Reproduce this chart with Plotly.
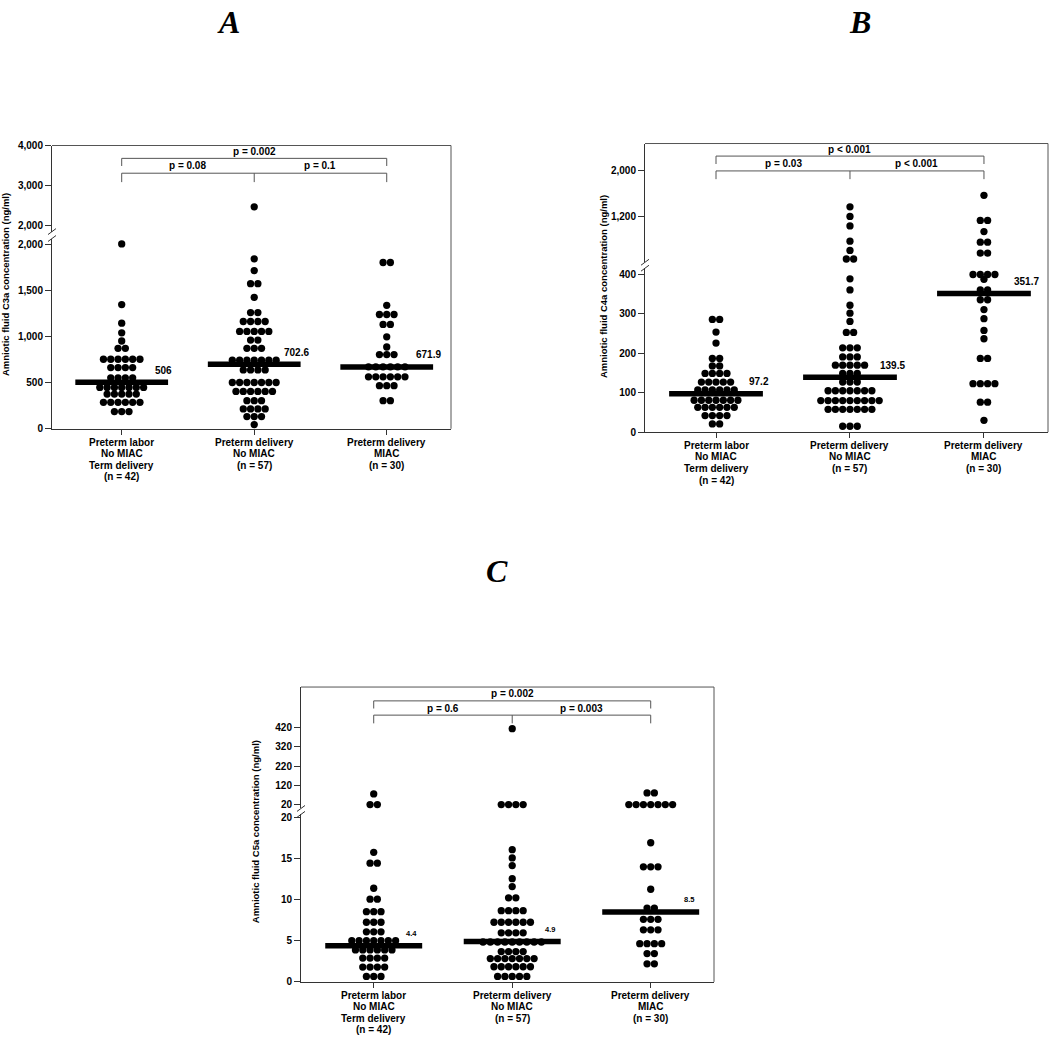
import plotly.graph_objects as go

W, H = 1050, 1044

# ---------------- data ----------------
categories = [["Preterm labor", "No MIAC", "Term delivery", "(n = 42)"],
              ["Preterm delivery", "No MIAC", "(n = 57)"],
              ["Preterm delivery", "MIAC", "(n = 30)"]]

# Panel A: C3a (ng/ml)
c3a_term = [2009, 1350, 1148, 1043, 954, 875, 875,
            756, 756, 756, 756, 756, 756, 665, 665, 665, 665,
            554, 554, 554, 554, 449, 449, 449, 449, 449, 449, 449,
            377, 377, 377, 377, 377, 288, 288, 288, 288, 288, 288,
            187, 187, 187]
c3a_nomiac = [2476, 1847, 1720, 1577, 1577, 1429, 1263, 1263,
              1166, 1166, 1166, 1166, 1058, 1058, 1058, 1058, 1058,
              964, 964, 875, 875, 875, 745, 745, 745, 745, 745, 745, 745,
              640, 640, 640, 640, 503, 503, 503, 503, 503, 503, 503,
              406, 406, 406, 406, 406, 406, 306, 306, 306,
              216, 216, 216, 216, 133, 133, 133, 46]
c3a_miac = [1807, 1807, 1342, 1242, 1242, 1242, 1134, 1134, 1000, 889,
            806, 806, 806, 673, 673, 673, 673, 673, 673,
            565, 565, 565, 565, 565, 565, 468, 468, 468, 306, 306]
c3a_medians = [506, 702.6, 671.9]
c3a_median_text = ["506", "702.6", "671.9"]
c3a_pvalues = ["p = 0.002", "p = 0.08", "p = 0.1"]
c3a_low_ticks = [0, 500, 1000, 1500, 2000]
c3a_low_ticktext = ["0", "500", "1,000", "1,500", "2,000"]
c3a_up_ticks = [2000, 3000, 4000]
c3a_up_ticktext = ["2,000", "3,000", "4,000"]

# Panel B: C4a (ng/ml)
c4a_term = [286, 286, 254, 226, 187, 187, 168, 168, 149, 149, 149, 149,
            127, 127, 127, 127, 127, 107, 107, 107, 107, 107, 107,
            81, 81, 81, 81, 81, 81, 81, 63, 63, 63, 63, 63, 63,
            42, 42, 42, 42, 21, 21]
c4a_nomiac = [1369, 1200, 1033, 765, 603, 452, 452, 389, 361, 322, 302, 281,
              253, 253, 214, 214, 214, 191, 191, 191, 170, 170, 170, 170, 170,
              149, 149, 149, 127, 127, 127, 105, 105, 105, 105, 105, 105, 105,
              80, 80, 80, 80, 80, 80, 80, 80, 80, 58, 58, 58, 58, 58, 58, 58,
              15, 15, 15]
c4a_miac = [1572, 1130, 1130, 934, 748, 748, 557, 557, 400, 400, 400, 400,
            388, 361, 361, 336, 336, 311, 288, 258, 237, 187, 187,
            123, 123, 123, 123, 76, 76, 30]
c4a_medians = [97.2, 139.5, 351.7]
c4a_median_text = ["97.2", "139.5", "351.7"]
c4a_pvalues = ["p < 0.001", "p = 0.03", "p < 0.001"]
c4a_low_ticks = [0, 100, 200, 300, 400]
c4a_low_ticktext = ["0", "100", "200", "300", "400"]
c4a_up_ticks = [1200, 2000]
c4a_up_ticktext = ["1,200", "2,000"]

# Panel C: C5a (ng/ml)
c5a_term = [76, 21, 21, 15.75, 14.43, 14.43, 11.38, 10.05, 10.05,
            8.54, 8.54, 8.54, 7.25, 7.25, 7.25, 6.09, 6.09, 6.09,
            5.0, 5.0, 5.0, 5.0, 5.0, 5.0, 5.0, 3.88, 3.88, 3.88, 3.88, 3.88, 3.88,
            2.89, 2.89, 2.89, 2.89, 1.80, 1.80, 1.80, 1.80, 0.67, 0.67, 0.67]
c5a_nomiac = [413, 21, 21, 21, 21, 16.07, 15.07, 14.14, 12.54, 11.58, 10.22, 10.22,
              8.66, 8.66, 8.66, 8.66, 7.25, 7.25, 7.25, 7.25, 7.25, 7.25,
              5.97, 5.97, 5.97, 5.97, 4.85, 4.85, 4.85, 4.85, 4.85, 4.85, 4.85, 4.85, 4.85,
              3.68, 3.68, 3.68, 3.68, 2.84, 2.84, 2.84, 2.84, 2.84, 2.84, 2.84,
              1.84, 1.84, 1.84, 1.84, 1.84, 1.84, 0.67, 0.67, 0.67, 0.67, 0.67]
c5a_miac = [81, 81, 21, 21, 21, 21, 21, 21, 21, 16.91, 13.99, 13.99, 13.99, 11.26,
            8.97, 8.97, 7.61, 7.61, 7.61, 6.33, 6.33, 6.33,
            4.64, 4.64, 4.64, 4.64, 3.44, 3.44, 2.2, 2.2]
c5a_medians = [4.4, 4.9, 8.5]
c5a_median_text = ["4.4", "4.9", "8.5"]
c5a_pvalues = ["p = 0.002", "p = 0.6", "p = 0.003"]
c5a_low_ticks = [0, 5, 10, 15, 20]
c5a_low_ticktext = ["0", "5", "10", "15", "20"]
c5a_up_ticks = [20, 120, 220, 320, 420]
c5a_up_ticktext = ["20", "120", "220", "320", "420"]

# ---------------- layout geometry (pixels) ----------------
panels = [
    dict(letter="A", title="Amniotic fluid C3a concentration (ng/ml)",
         groups=[c3a_term, c3a_nomiac, c3a_miac], medians=c3a_medians,
         mtext=c3a_median_text, pvals=c3a_pvalues,
         lt=(c3a_low_ticks, c3a_low_ticktext), ut=(c3a_up_ticks, c3a_up_ticktext),
         xpx=(52, 451), xr=(-0.526, 2.485),
         lowpx=(428.3, 236), lowr=(0, 2068), uppx=(229, 142), upr=(1859, 4007),
         br=(155, 162.7, 170, 179), pt=(148.3, 162.7),
         letterpx=(228, 17), ytpx=(5, 283), mdx=42, msize=10),
    dict(letter="B", title="Amniotic fluid C4a concentration (ng/ml)",
         groups=[c4a_term, c4a_nomiac, c4a_miac], medians=c4a_medians,
         mtext=c4a_median_text, pvals=c4a_pvalues,
         lt=(c4a_low_ticks, c4a_low_ticktext), ut=(c4a_up_ticks, c4a_up_ticktext),
         xpx=(645, 1048), xr=(-0.530, 2.478),
         lowpx=(431.7, 266), lowr=(0, 416), uppx=(260, 140), upr=(395, 2482),
         br=(152.7, 160.7, 167.7, 176), pt=(145.7, 160.3),
         letterpx=(860, 17), ytpx=(604, 285), mdx=43, msize=10),
    dict(letter="C", title="Amniotic fluid C5a concentration (ng/ml)",
         groups=[c5a_term, c5a_nomiac, c5a_miac], medians=c5a_medians,
         mtext=c5a_median_text, pvals=c5a_pvalues,
         lt=(c5a_low_ticks, c5a_low_ticktext), ut=(c5a_up_ticks, c5a_up_ticktext),
         xpx=(301, 714), xr=(-0.525, 2.457),
         lowpx=(987.3, 818), lowr=(0, 20.36), uppx=(812, 689.3), upr=(1.1, 628),
         br=(703.3, 711, 717.7, 726), pt=(695.7, 710.7),
         letterpx=(497, 572), ytpx=(255, 836), mdx=38, msize=7.5),
]

FONT = "Liberation Sans, Arial, sans-serif"
AXC = "#333333"
FRC = "#555555"
DOT = 7.3  # marker diameter / spacing in px


def px(x):
    return x / W


def py(y):
    return 1 - y / H


fig = go.Figure()
layout = dict(width=W, height=H, margin=dict(l=0, r=0, t=0, b=0),
              paper_bgcolor="white", plot_bgcolor="white", showlegend=False)
shapes, annotations = [], []

for i, p in enumerate(panels):
    xn = "x" if i == 0 else f"x{i + 1}"
    yl = "y" if i == 0 else f"y{2 * i + 1}"
    yu = f"y{2 * i + 2}"
    xkey = "xaxis" if i == 0 else f"xaxis{i + 1}"
    ylkey = "yaxis" if i == 0 else f"yaxis{2 * i + 1}"
    yukey = f"yaxis{2 * i + 2}"

    x0, x1 = p["xpx"]
    xdom = [px(x0), px(x1)]
    layout[xkey] = dict(domain=xdom, range=list(p["xr"]), anchor=yl,
                        tickvals=[0, 1, 2], showticklabels=False,
                        ticks="outside", ticklen=5, tickcolor=AXC, tickwidth=1,
                        showline=True, linecolor=AXC, linewidth=1,
                        showgrid=False, zeroline=False, fixedrange=True)
    common_y = dict(anchor=xn, ticks="outside", ticklen=6, tickcolor=AXC, tickwidth=1,
                    showline=True, linecolor=AXC, linewidth=1, showgrid=False,
                    zeroline=False, fixedrange=True,
                    tickfont=dict(family=FONT, size=10, color="black", weight="bold"))
    layout[ylkey] = dict(domain=[py(p["lowpx"][0]), py(p["lowpx"][1])], range=list(p["lowr"]),
                         tickvals=p["lt"][0], ticktext=p["lt"][1], **common_y)
    layout[yukey] = dict(domain=[py(p["uppx"][0]), py(p["uppx"][1])], range=list(p["upr"]),
                         tickvals=p["ut"][0], ticktext=p["ut"][1], **common_y)

    unit_px = (x1 - x0) / (p["xr"][1] - p["xr"][0])
    brk = p["lowr"][1]

    # beeswarm rows of dots
    for g, vals in enumerate(p["groups"]):
        rows = {}
        for v in vals:
            rows[v] = rows.get(v, 0) + 1
        lx, ly, ux, uy = [], [], [], []
        for v, n in rows.items():
            for k in range(n):
                xo = g + (k - (n - 1) / 2) * DOT / unit_px
                if v > brk:
                    ux.append(xo); uy.append(v)
                else:
                    lx.append(xo); ly.append(v)
        mk = dict(size=DOT, color="black", line=dict(width=0))
        fig.add_trace(go.Scatter(x=lx, y=ly, xaxis=xn, yaxis=yl, mode="markers",
                                 marker=mk, cliponaxis=False, hoverinfo="skip"))
        if ux:
            fig.add_trace(go.Scatter(x=ux, y=uy, xaxis=xn, yaxis=yu, mode="markers",
                                     marker=mk, cliponaxis=False, hoverinfo="skip"))

    # median bars and labels
    for g, m in enumerate(p["medians"]):
        fig.add_trace(go.Scatter(x=[g - 0.35, g + 0.35], y=[m, m], xaxis=xn, yaxis=yl,
                                 mode="lines", line=dict(color="black", width=5.5),
                                 cliponaxis=False, hoverinfo="skip"))
        annotations.append(dict(x=g, y=m, xref=xn, yref=yl, text=p["mtext"][g],
                                showarrow=False, xanchor="center", yanchor="middle",
                                xshift=p["mdx"], yshift=12,
                                font=dict(family=FONT, size=p["msize"], color="black", weight="bold")))

    # category labels (one line each, tight spacing)
    axis_y = p["lowpx"][0]
    for g, lines in enumerate(categories):
        for j, t in enumerate(lines):
            annotations.append(dict(x=g, y=py(axis_y + 13.4 + j * 11.7), xref=xn, yref="paper",
                                    text=t, showarrow=False, xanchor="center", yanchor="middle",
                                    font=dict(family=FONT, size=10, color="black", weight="bold")))

    # frame (top and right)
    top, bot = p["uppx"][1], p["lowpx"][0]
    shapes.append(dict(type="line", xref="paper", yref="paper", x0=px(x0), x1=px(x1),
                       y0=py(top), y1=py(top), line=dict(color=FRC, width=1)))
    shapes.append(dict(type="line", xref="paper", yref="paper", x0=px(x1), x1=px(x1),
                       y0=py(top), y1=py(bot), line=dict(color=FRC, width=1)))

    # axis break marks
    for yy in (p["lowpx"][1], p["uppx"][0]):
        shapes.append(dict(type="line", xref="paper", yref="paper",
                           x0=px(x0 - 4), x1=px(x0 + 4), y0=py(yy + 3), y1=py(yy - 3),
                           line=dict(color=AXC, width=1)))

    # significance brackets
    ot, od, it, idn = p["br"]
    bl = dict(color=FRC, width=1)
    for (xa, ya, xb, yb) in [(0, od, 0, ot), (0, ot, 2, ot), (2, ot, 2, od),
                             (0, idn, 0, it), (0, it, 2, it), (2, it, 2, idn), (1, it, 1, idn)]:
        shapes.append(dict(type="line", xref=xn, yref="paper", x0=xa, x1=xb,
                           y0=py(ya), y1=py(yb), line=bl))
    for xc, yc, t in [(1, p["pt"][0], p["pvals"][0]), (0.5, p["pt"][1], p["pvals"][1]),
                      (1.5, p["pt"][1], p["pvals"][2])]:
        annotations.append(dict(x=xc, y=py(yc), xref=xn, yref="paper", text=t,
                                showarrow=False, xanchor="center", yanchor="middle",
                                font=dict(family=FONT, size=10, color="black", weight="bold")))

    # y-axis title
    annotations.append(dict(x=px(p["ytpx"][0]), y=py(p["ytpx"][1]), xref="paper", yref="paper",
                            text=p["title"], textangle=-90, showarrow=False,
                            xanchor="center", yanchor="middle",
                            font=dict(family=FONT, size=9.5, color="black", weight="bold")))
    # panel letter
    annotations.append(dict(x=px(p["letterpx"][0]), y=py(p["letterpx"][1]), xref="paper", yref="paper",
                            text="<b><i>" + p["letter"] + "</i></b>", showarrow=False,
                            xanchor="center", yanchor="middle",
                            font=dict(family="Liberation Serif, Times New Roman, serif", size=32, color="black")))

layout["shapes"] = shapes
layout["annotations"] = annotations
fig.update_layout(**layout)
fig.write_html("out.html",
               config={"displayModeBar": False, "staticPlot": True},
               post_script="document.documentElement.style.margin='0';"
                           "document.body.style.margin='0';"
                           "document.body.style.overflow='hidden';")
